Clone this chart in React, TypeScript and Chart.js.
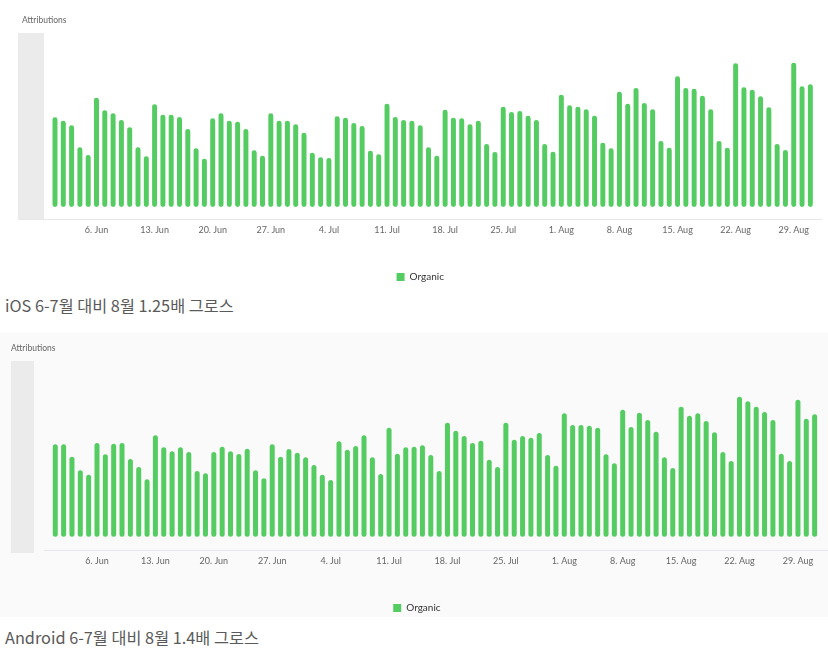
import React, { useEffect, useRef } from "react";
import { Chart, registerables } from "chart.js";

Chart.register(...registerables);

// ---- categories (1 Jun – 31 Aug) ----
const MONTHS: [string, number][] = [
  ["Jun", 30],
  ["Jul", 31],
  ["Aug", 31],
];
const categories: string[] = MONTHS.flatMap(([m, n]) =>
  Array.from({ length: n }, (_, i) => `${i + 1}. ${m}`)
);
const tickLabels: string[] = [
  "6. Jun", "13. Jun", "20. Jun", "27. Jun", "4. Jul", "11. Jul", "18. Jul",
  "25. Jul", "1. Aug", "8. Aug", "15. Aug", "22. Aug", "29. Aug",
];

// ---- iOS Organic attributions ----
const iosJun = [
  897, 863, 817, 597, 520, 1093, 967, 937, 870, 797, 597, 507, 1027, 923, 923,
  900, 780, 587, 483, 887, 937, 863, 853, 780, 567, 513, 937, 863, 863, 827,
];
const iosJul = [
  743, 543, 497, 490, 907, 893, 840, 810, 563, 527, 1033, 900, 870, 863, 817,
  597, 513, 973, 893, 887, 827, 863, 630, 550, 1003, 950, 960, 913, 870, 630, 553,
];
const iosAug = [
  1123, 1017, 1003, 977, 913, 643, 587, 1153, 1033, 1190, 1040, 977, 660, 593,
  1307, 1190, 1183, 1113, 977, 660, 593, 1437, 1197, 1173, 1107, 997, 630, 570,
  1443, 1207, 1227,
];

// ---- Android Organic attributions ----
const androidJun = [
  924, 924, 800, 664, 620, 937, 824, 930, 937, 777, 697, 574, 1014, 894, 854,
  894, 847, 657, 634, 847, 900, 854, 827, 880, 664, 584, 924, 800, 877, 840,
];
const androidJul = [
  794, 717, 620, 567, 954, 870, 907, 1014, 794, 627, 1090, 830, 894, 900, 914,
  817, 657, 1140, 1060, 1007, 937, 960, 770, 697, 1140, 970, 1007, 990, 1037,
  817, 710,
];
const androidAug = [
  1234, 1117, 1117, 1110, 1090, 824, 734, 1270, 1097, 1240, 1167, 1050, 794, 687,
  1300, 1210, 1234, 1157, 1044, 847, 757, 1400, 1354, 1300, 1247, 1167, 830, 757,
  1370, 1180, 1224,
];

const iosValues = [...iosJun, ...iosJul, ...iosAug];
const androidValues = [...androidJun, ...androidJul, ...androidAug];

const GREEN = "#55cc62";
const FONT = "Lato, 'Open Sans', sans-serif";

type Layout = {
  height: number;
  padTop: number;
  padLeft: number;
  padRight: number;
  yWidth: number;
  yMin: number;
  yMax: number;
  bandX: number;
  bandW: number;
  bandExtra: number;
  lineX0: number;
  lineX1: number;
  titleX: number;
  titleY: number;
};

function BarChart({ values, layout }: { values: number[]; layout: Layout }) {
  const ref = useRef<HTMLCanvasElement | null>(null);
  useEffect(() => {
    if (!ref.current) return;
    const decor = {
      id: "decor",
      beforeDatasetsDraw(chart: any) {
        const { ctx, chartArea } = chart;
        ctx.save();
        ctx.fillStyle = "#ebebeb";
        ctx.fillRect(
          layout.bandX,
          chartArea.top,
          layout.bandW,
          chartArea.bottom - chartArea.top + layout.bandExtra
        );
        ctx.strokeStyle = "#e6e8eb";
        ctx.lineWidth = 1;
        ctx.beginPath();
        ctx.moveTo(layout.lineX0, Math.round(chartArea.bottom) + 0.5);
        ctx.lineTo(layout.lineX1, Math.round(chartArea.bottom) + 0.5);
        ctx.stroke();
        ctx.fillStyle = "#666";
        ctx.font = `8.5px ${FONT}`;
        ctx.textBaseline = "middle";
        ctx.textAlign = "left";
        ctx.fillText("Attributions", layout.titleX, layout.titleY);
        ctx.restore();
      },
    };
    const chart = new Chart(ref.current, {
      type: "bar",
      data: {
        labels: categories,
        datasets: [
          {
            label: "Organic",
            data: values,
            backgroundColor: GREEN,
            borderWidth: 0,
            borderRadius: 2.5,
            borderSkipped: false,
            barPercentage: 0.6,
            categoryPercentage: 1,
          },
        ],
      },
      options: {
        animation: false,
        responsive: true,
        maintainAspectRatio: false,
        layout: {
          padding: {
            top: layout.padTop,
            left: layout.padLeft,
            right: layout.padRight,
            bottom: 0,
          },
        },
        scales: {
          x: {
            offset: true,
            grid: { display: false, drawTicks: false },
            border: { display: false },
            ticks: {
              autoSkip: false,
              maxRotation: 0,
              minRotation: 0,
              padding: 6,
              color: "#666",
              font: { family: FONT, size: 9 },
              callback: (_v: any, i: number) =>
                tickLabels.includes(categories[i]) ? categories[i] : "",
            },
            afterFit: (s: any) => {
              s.height = 43;
            },
          },
          y: {
            min: layout.yMin,
            max: layout.yMax,
            grid: { display: false, drawTicks: false },
            border: { display: false },
            ticks: { display: false },
            afterFit: (s: any) => {
              s.width = layout.yWidth;
            },
          },
        },
        plugins: {
          legend: {
            position: "bottom",
            labels: {
              boxWidth: 8,
              boxHeight: 8,
              padding: 10,
              color: "#333",
              font: { family: FONT, size: 10 },
            },
          },
          tooltip: { enabled: false },
          title: { display: false },
        },
      },
      plugins: [decor],
    });
    return () => chart.destroy();
  }, [values, layout]);
  return (
    <div style={{ position: "relative", width: 828, height: layout.height }}>
      <canvas ref={ref} />
    </div>
  );
}

const topLayout: Layout = {
  height: 292,
  padTop: 33,
  padLeft: 26,
  padRight: 13.5,
  yWidth: 24.85,
  yMin: -120,
  yMax: 1740,
  bandX: 18,
  bandW: 26,
  bandExtra: 0,
  lineX0: 18,
  lineX1: 822,
  titleX: 22,
  titleY: 20,
};

const bottomLayout: Layout = {
  height: 290,
  padTop: 28,
  padLeft: 15,
  padRight: 9.2,
  yWidth: 36.1,
  yMin: -133,
  yMax: 1757,
  bandX: 11,
  bandW: 23,
  bandExtra: 3,
  lineX0: 44,
  lineX1: 828,
  titleX: 11,
  titleY: 15,
};

const captionStyle: React.CSSProperties = {
  position: "absolute",
  left: 5,
  fontFamily: "'Noto Sans CJK KR', 'Noto Sans', sans-serif",
  fontSize: 16.3,
  lineHeight: "20px",
  color: "#5a5a5a",
  whiteSpace: "nowrap",
};

export default function App() {
  return (
    <div
      style={{
        position: "absolute",
        left: 0,
        top: 0,
        width: 828,
        height: 650,
        background: "#fff",
        overflow: "hidden",
      }}
    >
      <div
        style={{
          position: "absolute",
          left: 0,
          top: 333,
          width: 828,
          height: 284,
          background: "#fafafa",
        }}
      />
      <div style={{ position: "absolute", left: 0, top: 0 }}>
        <BarChart values={iosValues} layout={topLayout} />
      </div>
      <div style={{ position: "absolute", left: 0, top: 333 }}>
        <BarChart values={androidValues} layout={bottomLayout} />
      </div>
      <div style={{ ...captionStyle, top: 295 }}>iOS 6-7월 대비 8월 1.25배 그로스</div>
      <div style={{ ...captionStyle, top: 627 }}>Android 6-7월 대비 8월 1.4배 그로스</div>
    </div>
  );
}
